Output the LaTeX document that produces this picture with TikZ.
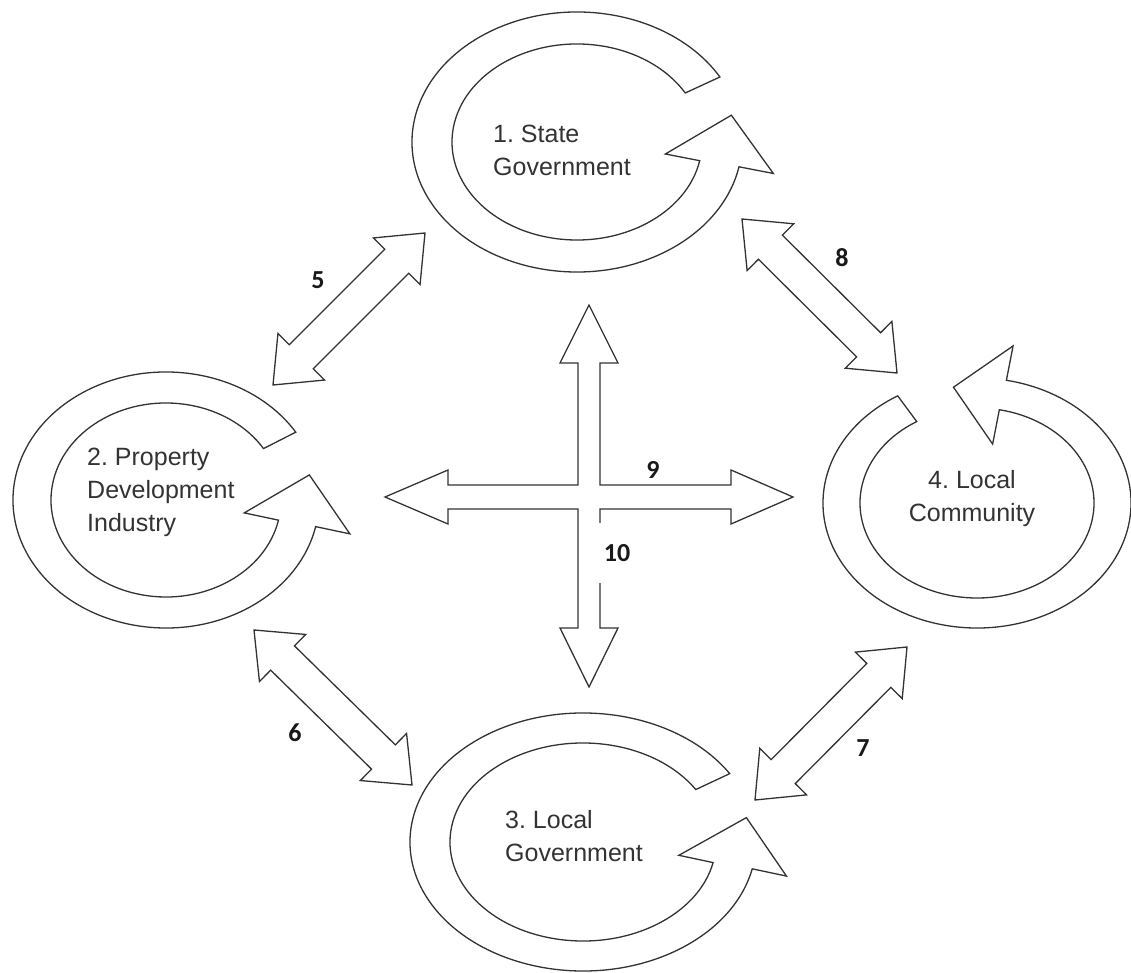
\documentclass[tikz,border=0pt]{standalone}
\usepackage{fontspec}
\setmainfont{Liberation Sans}
\newfontfamily\numfont{Carlito}
\usetikzlibrary{calc}

\tikzset{
  outline/.style={draw=black!80, line width=1.3pt, fill=white},
  boxtext/.style={text=black!80, font=\fontsize{25}{33}\selectfont\frenchspacing, align=left, inner sep=0pt},
  numlabel/.style={text=black!90, font=\numfont\bfseries\fontsize{26}{30}\selectfont, inner sep=1pt},
}

% circular arrow: centre, outer radii, inner radii, tail angle, head angle
\newcommand{\cyclearrow}[7]{%
  \pgfmathsetmacro\carxm{(#2+#4)/2}
  \pgfmathsetmacro\carym{(#3+#5)/2}
  \pgfmathsetmacro\catx{-\carxm*sin(#7)}
  \pgfmathsetmacro\caty{\carym*cos(#7)}
  \pgfmathsetmacro\catn{veclen(\catx,\caty)}
  \pgfmathsetmacro\catipx{\carxm*cos(#7)+50*\catx/\catn}
  \pgfmathsetmacro\catipy{\carym*sin(#7)+50*\caty/\catn}
  \pgfmathsetmacro\caxa{#2+35}
  \pgfmathsetmacro\caya{#3+35}
  \pgfmathsetmacro\caxb{#4-35}
  \pgfmathsetmacro\cayb{#5-35}
  \draw[outline] ($(#1)+(#6:#2 and #3)$)
    arc[start angle=#6, end angle=#7, x radius=#2pt, y radius=#3pt]
    -- ($(#1)+(#7:{\caxa} and {\caya})$) -- ($(#1)+(\catipx,\catipy)$)
    -- ($(#1)+(#7:{\caxb} and {\cayb})$) -- ($(#1)+(#7:#4 and #5)$)
    arc[start angle=#7, end angle=#6, x radius=#4pt, y radius=#5pt] -- cycle;
}

% block arrow with a head at both ends
\newcommand{\dblarrow}[2]{%
  \coordinate (h1) at ($(#1)!40pt!(#2)$);
  \coordinate (h2) at ($(#2)!40pt!(#1)$);
  \draw[outline] (#1) -- ($(h1)!33pt!90:(#2)$) -- ($(h1)!17pt!90:(#2)$)
    -- ($(h2)!17pt!-90:(#1)$) -- ($(h2)!33pt!-90:(#1)$) -- (#2)
    -- ($(h2)!33pt!90:(#1)$) -- ($(h2)!17pt!90:(#1)$)
    -- ($(h1)!17pt!-90:(#2)$) -- ($(h1)!33pt!-90:(#2)$) -- cycle;
}

\begin{document}
\begin{tikzpicture}[x=1pt, y=1pt]
\useasboundingbox (0,0) rectangle (1131,972);

\coordinate (c1) at (577,830);
\coordinate (c2) at (166,472);
\coordinate (c3) at (583,130);
\coordinate (c4) at (977,469);

\cyclearrow{c1}{165}{130}{125}{98}{30}{349}
\cyclearrow{c2}{153}{128}{115}{97}{32}{348}
\cyclearrow{c3}{173}{129}{133}{99}{32}{348}
\cyclearrow{c4}{154}{125}{117}{95}{121}{439}

\node[boxtext, anchor=west] (state) at (493,822) {1. State\\Government};
\node[boxtext, anchor=west] (industry) at (87,480) {2. Property\\Development\\Industry};
\node[boxtext, anchor=west] (localgov) at (505,136) {3. Local\\Government};
\node[boxtext, align=center] (community) at (972,473) {4. Local\\Community};

\coordinate (s5a) at (273,587);
\coordinate (s5b) at (425,739);
\coordinate (s6a) at (254,342);
\coordinate (s6b) at (412,187);
\coordinate (s7a) at (755,172);
\coordinate (s7b) at (907,325);
\coordinate (s8a) at (742,753);
\coordinate (s8b) at (897,599);
\dblarrow{s5a}{s5b}
\dblarrow{s6a}{s6b}
\dblarrow{s7a}{s7b}
\dblarrow{s8a}{s8b}

\begin{scope}[shift={(589,475)}]
\draw[outline] (0,192) -- (29,134) -- (11,134) -- (11,12) -- (142,12) -- (142,27)
  -- (204,0) -- (142,-27) -- (142,-12) -- (11,-12) -- (11,-131) -- (29,-131)
  -- (0,-190) -- (-29,-131) -- (-11,-131) -- (-11,-12) -- (-141,-12) -- (-141,-27)
  -- (-204,0) -- (-141,27) -- (-141,12) -- (-11,12) -- (-11,134) -- (-29,134) -- cycle;
\end{scope}

\node[numlabel] (n5) at (318,692) {5};
\node[numlabel] (n6) at (295,239) {6};
\node[numlabel] (n7) at (863,224) {7};
\node[numlabel] (n8) at (842,714) {8};
\node[numlabel] (n9) at (653,502) {9};
\node[numlabel, fill=white, minimum width=38pt, minimum height=60pt] (n10) at (617,419) {10};
\end{tikzpicture}
\end{document}
